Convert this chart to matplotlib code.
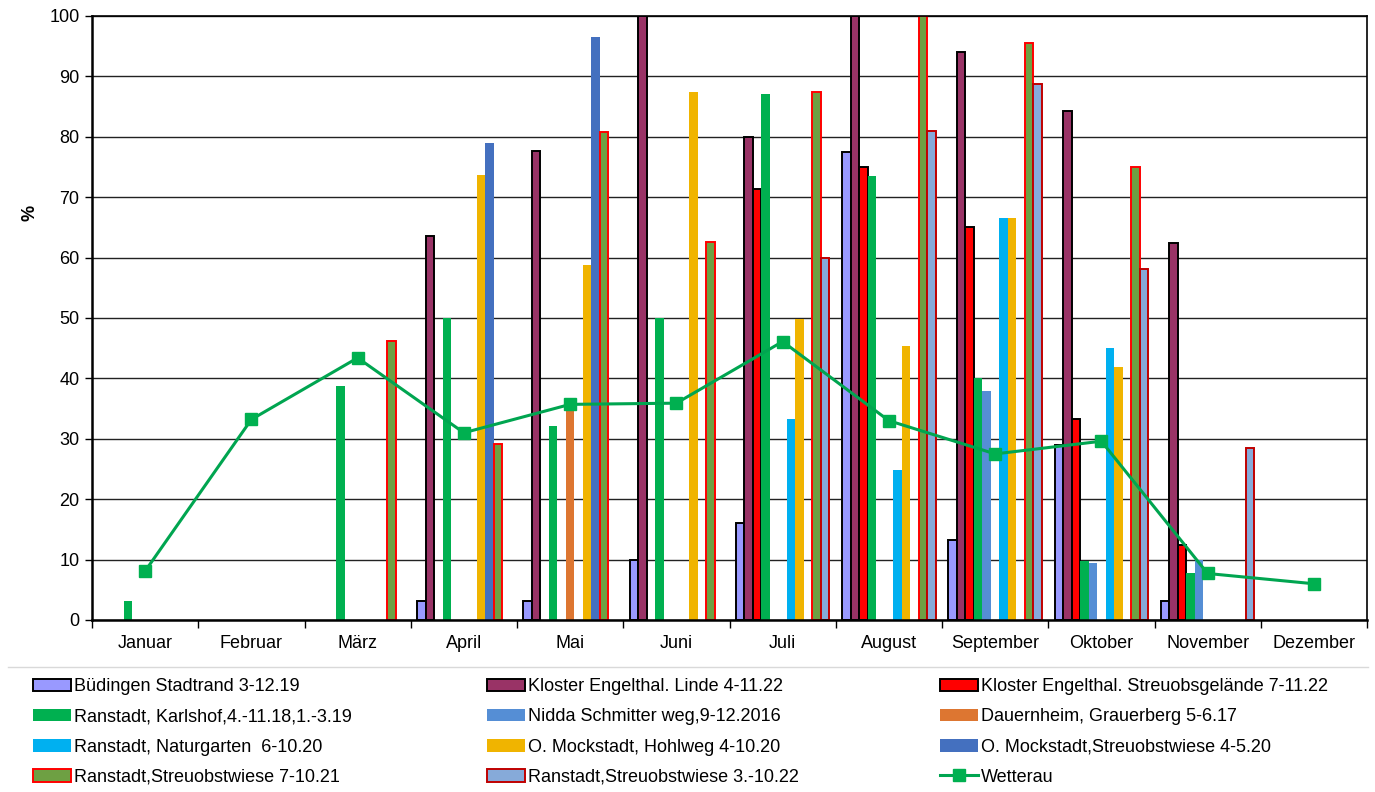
import numpy as np
import matplotlib.pyplot as plt
from matplotlib.lines import Line2D

plt.rcParams['font.family'] = ['Liberation Sans', 'DejaVu Sans']

months = ['Januar', 'Februar', 'März', 'April', 'Mai', 'Juni', 'Juli',
          'August', 'September', 'Oktober', 'November', 'Dezember']
nan = np.nan

# values in %, nan = no bar
buedingen = [nan, nan, nan, 3.2, 3.1, 9.9, 16.1, 77.5, 13.2, 29.0, 3.2, nan]
kloster_linde = [nan, nan, nan, 63.6, 77.7, 100, 79.9, 100, 94.1, 84.2, 62.5, nan]
kloster_streuobst = [nan, nan, nan, nan, nan, nan, 71.4, 75.0, 65.0, 33.2, 12.4, nan]
karlshof = [3.2, nan, 38.8, 50.0, 32.2, 50.0, 87.1, 73.5, 40.0, 9.7, 7.8, nan]
nidda = [nan, nan, nan, nan, nan, nan, nan, nan, 37.9, 9.5, 9.9, nan]
dauernheim = [nan, nan, nan, nan, 35.5, nan, nan, nan, nan, nan, nan, nan]
naturgarten = [nan, nan, nan, nan, nan, nan, 33.2, 24.9, 66.5, 45.1, nan, nan]
hohlweg = [nan, nan, nan, 73.6, 58.7, 87.5, 49.9, 45.4, 66.5, 41.9, nan, nan]
mock_streuobst = [nan, nan, nan, 78.9, 96.6, nan, nan, nan, nan, nan, nan, nan]
ranstadt_21 = [nan, nan, 46.2, 29.2, 80.8, 62.6, 87.5, 100, 95.5, 75.0, nan, nan]
ranstadt_22 = [nan, nan, nan, nan, nan, nan, 59.9, 80.9, 88.8, 58.1, 28.5, nan]
wetterau = [8.1, 33.2, 43.4, 31.0, 35.7, 35.9, 46.1, 33.0, 27.5, 29.6, 7.7, 6.0]

series = [
    ('Büdingen Stadtrand 3-12.19', buedingen, '#9999FF', 'black'),
    ('Kloster Engelthal. Linde 4-11.22', kloster_linde, '#993366', 'black'),
    ('Kloster Engelthal. Streuobsgelände 7-11.22', kloster_streuobst, '#FF0000', 'black'),
    ('Ranstadt, Karlshof,4.-11.18,1.-3.19', karlshof, '#00B050', None),
    ('Nidda Schmitter weg,9-12.2016', nidda, '#558ED5', None),
    ('Dauernheim, Grauerberg 5-6.17', dauernheim, '#DD7631', None),
    ('Ranstadt, Naturgarten  6-10.20', naturgarten, '#00B0F0', None),
    ('O. Mockstadt, Hohlweg 4-10.20', hohlweg, '#F0B400', None),
    ('O. Mockstadt,Streuobstwiese 4-5.20', mock_streuobst, '#4470BF', None),
    ('Ranstadt,Streuobstwiese 7-10.21', ranstadt_21, '#6EA043', '#FF0000'),
    ('Ranstadt,Streuobstwiese 3.-10.22', ranstadt_22, '#86AAD9', '#C00000'),
]

fig = plt.figure(figsize=(13.75, 7.92), dpi=100)
ax = fig.add_axes([92 / 1375, 1 - 620 / 792, 1275 / 1375, 604 / 792])

x = np.arange(len(months))
w = 1 / 12.5
handles = []
for k, (name, vals, color, edge) in enumerate(series):
    if edge is None:
        b = ax.bar(x + (k - 5) * w, vals, w, color=color, linewidth=0, zorder=2, label=name)
    else:
        b = ax.bar(x + (k - 5) * w, vals, w, color=color, edgecolor=edge, linewidth=1.4,
                   zorder=2, label=name)
    handles.append(b)

ln, = ax.plot(x, wetterau, color='#00A550', linewidth=2.2, marker='s', markersize=9,
              markerfacecolor='#00B050', markeredgecolor='#00B050', zorder=3, label='Wetterau')
handles.append(ln)

ax.set_xlim(-0.5, 11.5)
ax.set_ylim(0, 100)
ax.set_yticks(np.arange(0, 101, 10))
ax.set_xticks(np.arange(-0.5, 12, 1))
ax.set_xticklabels([])
ax.set_xticks(x, minor=True)
ax.set_xticklabels(months, minor=True, fontsize=13)
ax.tick_params(axis='x', which='minor', length=0, pad=11)
ax.tick_params(axis='x', which='major', length=6, width=1, direction='out')
ax.tick_params(axis='y', length=5, width=1, labelsize=13, pad=4)
ax.yaxis.grid(True, color='#222222', linewidth=1, zorder=0)
ax.set_axisbelow(True)
for s in ['top', 'right']:
    ax.spines[s].set_linewidth(1.2)
ax.spines['left'].set_linewidth(1.8)
ax.spines['bottom'].set_linewidth(1.8)
ax.set_ylabel('%', fontsize=13, fontweight='bold')
ax.yaxis.set_label_coords(-0.042, 0.674)

# legend: three columns, filled row by row
col_x = [26, 480, 933]
for c in range(3):
    hs = handles[c::3]
    fig.legend(hs, [h.get_label() for h in hs],
               loc='upper left', bbox_to_anchor=(col_x[c] / 1375, 1 - 671 / 792),
               frameon=False, fontsize=13, handlelength=2.1, handleheight=0.7,
               handletextpad=0.15, labelspacing=0.73, borderaxespad=0)

fig.add_artist(Line2D([8 / 1375, 1368 / 1375], [1 - 667 / 792, 1 - 667 / 792],
                      color='#d9d9d9', linewidth=1))

fig.savefig('out.png', dpi=100)
